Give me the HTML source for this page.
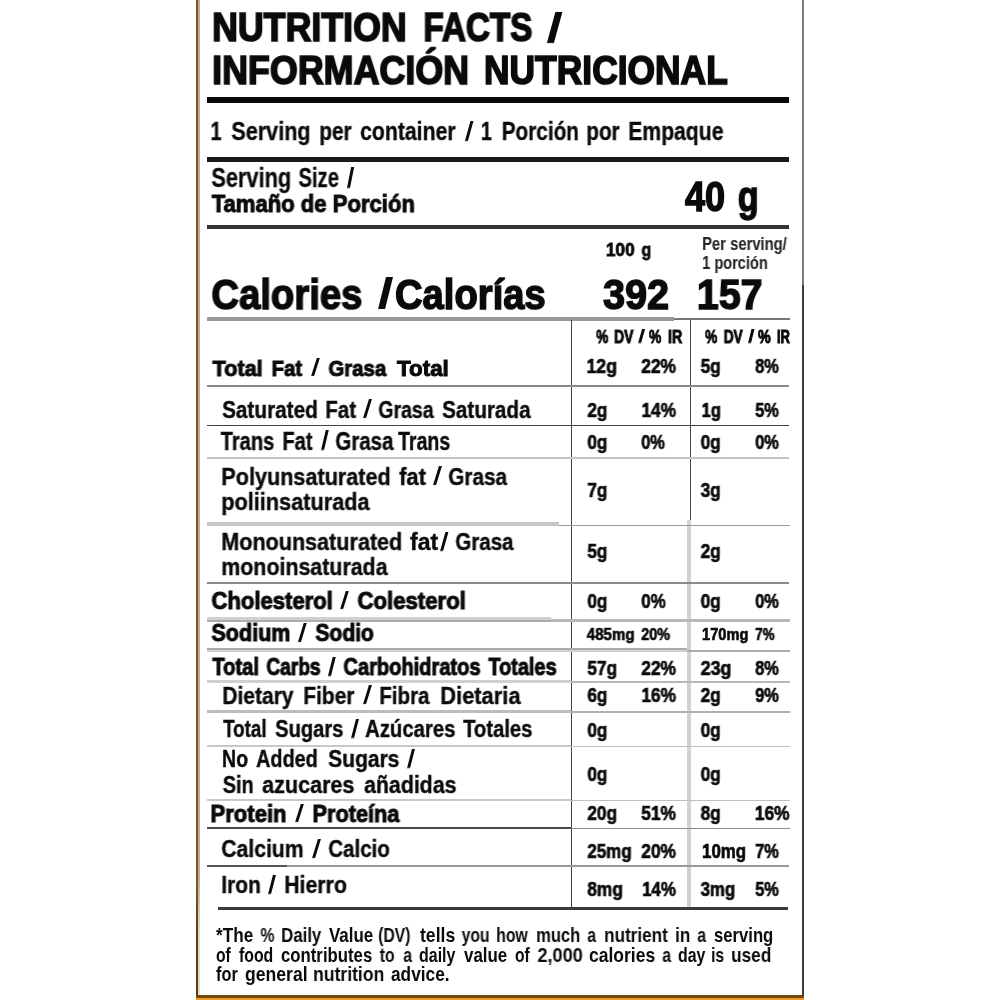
<!DOCTYPE html>
<html><head><meta charset="utf-8"><title>Nutrition Facts</title>
<style>
html,body{margin:0;padding:0;background:#fff;}
body{width:1000px;height:1000px;position:relative;overflow:hidden;font-family:"Liberation Sans",sans-serif;color:#0a0a0a;}
.t{position:absolute;left:0;top:0;white-space:pre;transform-origin:0 0;display:block;filter:blur(0.4px);}
.r{position:absolute;}
.sl{filter:blur(0.4px);}
</style></head><body>
<div class="r" style="left:196px;top:0px;width:2.2px;height:1000px;background:#8a5616;background:linear-gradient(#8a5616 0,#8a5616 88%,#5c3a08 94%,#5c3a08 100%);"></div>
<div class="r" style="left:198.2px;top:0px;width:1.8px;height:995.2px;background:#b0b2aa;background:linear-gradient(#b0b2aa 0,#b0b2aa 88%,#dcdcdc 94%,#dcdcdc 100%);"></div>
<div class="r" style="left:802px;top:0px;width:2px;height:285px;background:#7a7a78;"></div>
<div class="r" style="left:802px;top:285px;width:2px;height:715px;background:#3d3a38;"></div>
<div class="r" style="left:196px;top:995.2px;width:608px;height:2.8px;background:#6b4a1a;"></div>
<div class="r" style="left:196px;top:997.8px;width:608px;height:2.2px;background:#f59a10;"></div>
<div class="r" style="left:206.8px;top:97.4px;width:582.7px;height:6.1px;background:#0a0a0a;"></div>
<div class="r" style="left:206.8px;top:157.3px;width:582.7px;height:4.4px;background:#1a1a1a;"></div>
<div class="r" style="left:206.8px;top:225.2px;width:582.7px;height:4.2px;background:#333;"></div>
<div class="r" style="left:206.8px;top:317.2px;width:467.2px;height:3.4px;background:#999;"></div>
<div class="r" style="left:674px;top:318.2px;width:115.5px;height:2px;background:#777;"></div>
<div class="r" style="left:570.5px;top:320px;width:1.2px;height:587px;background:#444;"></div>
<div class="r" style="left:690px;top:320px;width:1.2px;height:200px;background:#444;"></div>
<div class="r" style="left:686.6px;top:520px;width:4px;height:387px;background:#d2d2d2;"></div>
<div class="r" style="left:206.8px;top:384.8px;width:582.7px;height:2.2px;background:#888;"></div>
<div class="r" style="left:206.8px;top:424.8px;width:582.7px;height:1.6px;background:#444;"></div>
<div class="r" style="left:206.8px;top:456.6px;width:582.7px;height:2.2px;background:#c4c4c4;"></div>
<div class="r" style="left:206.8px;top:522.4px;width:352.2px;height:3.7px;background:#c6c6c6;"></div>
<div class="r" style="left:559px;top:524.8px;width:230.5px;height:1.5px;background:#999;"></div>
<div class="r" style="left:206.8px;top:582.3px;width:582.7px;height:1.8px;background:#8a8a8a;"></div>
<div class="r" style="left:206.8px;top:617.2px;width:344.2px;height:2.6px;background:#d0d0d0;"></div>
<div class="r" style="left:206.8px;top:619.8px;width:344.2px;height:2.0px;background:#adadad;"></div>
<div class="r" style="left:551px;top:619.2px;width:238.5px;height:2.4px;background:#b8b8b8;"></div>
<div class="r" style="left:206.8px;top:648px;width:480.2px;height:2.0px;background:#ababab;"></div>
<div class="r" style="left:206.8px;top:650px;width:480.2px;height:1.8px;background:#d2d2d2;"></div>
<div class="r" style="left:687px;top:650.4px;width:102.5px;height:1.4px;background:#aaa;"></div>
<div class="r" style="left:206.8px;top:679.6px;width:364.2px;height:3px;background:#d0d0d0;"></div>
<div class="r" style="left:571px;top:681.2px;width:218.5px;height:1.6px;background:#b8b8b8;"></div>
<div class="r" style="left:206.8px;top:710.3px;width:364.2px;height:2.4px;background:#bdbdbd;"></div>
<div class="r" style="left:571px;top:711.4px;width:218.5px;height:1.7px;background:#b0b0b0;"></div>
<div class="r" style="left:206.8px;top:744.6px;width:364.2px;height:2.4px;background:#c8c8c8;"></div>
<div class="r" style="left:571px;top:745.6px;width:218.5px;height:1.5px;background:#c0c0c0;"></div>
<div class="r" style="left:206.8px;top:798.7px;width:364.2px;height:2.4px;background:#c8c8c8;"></div>
<div class="r" style="left:571px;top:799.5px;width:218.5px;height:1.5px;background:#c0c0c0;"></div>
<div class="r" style="left:206.8px;top:827.3px;width:364.2px;height:1.8px;background:#4a4a4a;"></div>
<div class="r" style="left:571px;top:827.5px;width:218.5px;height:1.8px;background:#8c8c8c;"></div>
<div class="r" style="left:206.8px;top:865.1px;width:80px;height:2px;background:#555;"></div>
<div class="r" style="left:286.8px;top:865.3px;width:502.7px;height:2px;background:#999;"></div>
<div class="r" style="left:218.2px;top:906.8px;width:570.3px;height:3.7px;background:#3a3a3a;"></div>
<div class="r sl" style="left:547.00px;top:12.40px;width:7.00px;height:30.60px;background:#0a0a0a;transform:skewX(-15.35deg);transform-origin:0 100%;"></div>
<div class="r sl" style="left:378.00px;top:277.20px;width:7.00px;height:32.40px;background:#0a0a0a;transform:skewX(-13.87deg);transform-origin:0 100%;"></div>
<div class="r sl" style="left:465.00px;top:121.12px;width:3.11px;height:19.58px;background:#0a0a0a;transform:skewX(-15.65deg);transform-origin:0 100%;"></div>
<div class="r sl" style="left:347.00px;top:167.00px;width:3.32px;height:20.90px;background:#0a0a0a;transform:skewX(-11.30deg);transform-origin:0 100%;"></div>
<div class="r sl" style="left:637.70px;top:329.20px;width:2.52px;height:14.30px;background:#0a0a0a;transform:skewX(-15.91deg);transform-origin:0 100%;"></div>
<div class="r sl" style="left:747.70px;top:329.20px;width:2.52px;height:14.30px;background:#0a0a0a;transform:skewX(-13.66deg);transform-origin:0 100%;"></div>
<div class="r sl" style="left:311.00px;top:358.04px;width:3.16px;height:18.26px;background:#0a0a0a;transform:skewX(-17.75deg);transform-origin:0 100%;"></div>
<div class="r sl" style="left:363.00px;top:399.35px;width:3.06px;height:19.25px;background:#0a0a0a;transform:skewX(-17.14deg);transform-origin:0 100%;"></div>
<div class="r sl" style="left:321.00px;top:430.26px;width:3.22px;height:20.24px;background:#0a0a0a;transform:skewX(-13.29deg);transform-origin:0 100%;"></div>
<div class="r sl" style="left:433.00px;top:466.25px;width:3.06px;height:19.25px;background:#0a0a0a;transform:skewX(-17.14deg);transform-origin:0 100%;"></div>
<div class="r sl" style="left:439.50px;top:531.65px;width:3.06px;height:19.25px;background:#0a0a0a;transform:skewX(-15.77deg);transform-origin:0 100%;"></div>
<div class="r sl" style="left:340.00px;top:591.42px;width:3.19px;height:18.48px;background:#0a0a0a;transform:skewX(-17.45deg);transform-origin:0 100%;"></div>
<div class="r sl" style="left:298.00px;top:622.78px;width:3.26px;height:18.92px;background:#0a0a0a;transform:skewX(-16.88deg);transform-origin:0 100%;"></div>
<div class="r sl" style="left:328.00px;top:656.58px;width:3.26px;height:18.92px;background:#0a0a0a;transform:skewX(-14.06deg);transform-origin:0 100%;"></div>
<div class="r sl" style="left:363.00px;top:685.05px;width:3.06px;height:19.25px;background:#0a0a0a;transform:skewX(-17.14deg);transform-origin:0 100%;"></div>
<div class="r sl" style="left:351.00px;top:718.65px;width:3.06px;height:19.25px;background:#0a0a0a;transform:skewX(-14.39deg);transform-origin:0 100%;"></div>
<div class="r sl" style="left:407.00px;top:748.65px;width:3.06px;height:19.25px;background:#0a0a0a;transform:skewX(-14.39deg);transform-origin:0 100%;"></div>
<div class="r sl" style="left:295.00px;top:804.22px;width:3.19px;height:18.48px;background:#0a0a0a;transform:skewX(-17.45deg);transform-origin:0 100%;"></div>
<div class="r sl" style="left:312.00px;top:838.65px;width:3.06px;height:19.25px;background:#0a0a0a;transform:skewX(-17.14deg);transform-origin:0 100%;"></div>
<div class="r sl" style="left:268.00px;top:874.65px;width:3.06px;height:19.25px;background:#0a0a0a;transform:skewX(-14.39deg);transform-origin:0 100%;"></div>
<span class="t" style="font-size:40.25px;line-height:40.25px;transform:translate(212.18px,8px) rotate(0.03deg) scaleX(0.8877);font-weight:bold;-webkit-text-stroke:1.7px #0a0a0a;">NUTRITION</span>
<span class="t" style="font-size:40.25px;line-height:40.25px;transform:translate(423.45px,8px) rotate(0.03deg) scaleX(0.8258);font-weight:bold;-webkit-text-stroke:1.7px #0a0a0a;">FACTS</span>
<span class="t" style="font-size:40.25px;line-height:40.25px;transform:translate(212.18px,51px) rotate(0.03deg) scaleX(0.8907);font-weight:bold;-webkit-text-stroke:1.7px #0a0a0a;">INFORMACIÓN</span>
<span class="t" style="font-size:40.25px;line-height:40.25px;transform:translate(483.99px,51px) rotate(0.03deg) scaleX(0.8793);font-weight:bold;-webkit-text-stroke:1.7px #0a0a0a;">NUTRICIONAL</span>
<span class="t" style="font-size:25.25px;line-height:25.25px;transform:translate(210.55px,119px) rotate(0.03deg) scaleX(0.7820);font-weight:bold;-webkit-text-stroke:0.35px #0a0a0a;">1</span>
<span class="t" style="font-size:25.25px;line-height:25.25px;transform:translate(231.35px,119px) rotate(0.03deg) scaleX(0.8564);font-weight:bold;-webkit-text-stroke:0.35px #0a0a0a;">Serving</span>
<span class="t" style="font-size:25.25px;line-height:25.25px;transform:translate(319.32px,119px) rotate(0.03deg) scaleX(0.8244);font-weight:bold;-webkit-text-stroke:0.35px #0a0a0a;">per</span>
<span class="t" style="font-size:25.25px;line-height:25.25px;transform:translate(360.15px,119px) rotate(0.03deg) scaleX(0.8408);font-weight:bold;-webkit-text-stroke:0.35px #0a0a0a;">container</span>
<span class="t" style="font-size:25.25px;line-height:25.25px;transform:translate(480.89px,119px) rotate(0.03deg) scaleX(0.7820);font-weight:bold;-webkit-text-stroke:0.35px #0a0a0a;">1</span>
<span class="t" style="font-size:25.25px;line-height:25.25px;transform:translate(501.72px,119px) rotate(0.03deg) scaleX(0.8224);font-weight:bold;-webkit-text-stroke:0.35px #0a0a0a;">Porción</span>
<span class="t" style="font-size:25.25px;line-height:25.25px;transform:translate(586.32px,119px) rotate(0.03deg) scaleX(0.8209);font-weight:bold;-webkit-text-stroke:0.35px #0a0a0a;">por</span>
<span class="t" style="font-size:25.25px;line-height:25.25px;transform:translate(628.31px,119px) rotate(0.03deg) scaleX(0.8375);font-weight:bold;-webkit-text-stroke:0.35px #0a0a0a;">Empaque</span>
<span class="t" style="font-size:27.25px;line-height:27.25px;transform:translate(211.42px,164px) rotate(0.03deg) scaleX(0.7981);font-weight:bold;-webkit-text-stroke:0.3px #0a0a0a;">Serving</span>
<span class="t" style="font-size:27.25px;line-height:27.25px;transform:translate(298.53px,164px) rotate(0.03deg) scaleX(0.7423);font-weight:bold;-webkit-text-stroke:0.3px #0a0a0a;">Size</span>
<span class="t" style="font-size:24.5px;line-height:24.5px;transform:translate(211.75px,192px) rotate(0.03deg) scaleX(0.9009);font-weight:bold;-webkit-text-stroke:1.0px #0a0a0a;">Tamaño de Porción</span>
<span class="t" style="font-size:42.25px;line-height:42.25px;transform:translate(685.04px,176px) rotate(0.03deg) scaleX(0.8511);font-weight:bold;-webkit-text-stroke:1.5px #0a0a0a;">40</span>
<span class="t" style="font-size:42.25px;line-height:42.25px;transform:translate(737.80px,176px) rotate(0.03deg) scaleX(0.8085);font-weight:bold;-webkit-text-stroke:1.5px #0a0a0a;">g</span>
<span class="t" style="font-size:19.25px;line-height:19.25px;transform:translate(605.86px,240px) rotate(0.03deg) scaleX(0.8971);font-weight:bold;-webkit-text-stroke:0.8px #0a0a0a;">100</span>
<span class="t" style="font-size:19.25px;line-height:19.25px;transform:translate(641.49px,240px) rotate(0.03deg) scaleX(0.8343);font-weight:bold;-webkit-text-stroke:0.8px #0a0a0a;">g</span>
<span class="t" style="font-size:17.5px;line-height:17.5px;transform:translate(702.20px,236px) rotate(0.03deg) scaleX(0.8448);font-weight:bold;-webkit-text-stroke:0.1px #262626;color:#262626;">Per serving/</span>
<span class="t" style="font-size:18.0px;line-height:18.0px;transform:translate(702.23px,254px) rotate(0.03deg) scaleX(0.8090);font-weight:bold;-webkit-text-stroke:0.1px #262626;color:#262626;">1 porción</span>
<span class="t" style="font-size:43.0px;line-height:43.0px;transform:translate(211.38px,273px) rotate(0.03deg) scaleX(0.8909);font-weight:bold;-webkit-text-stroke:1.5px #0a0a0a;">Calories</span>
<span class="t" style="font-size:43.0px;line-height:43.0px;transform:translate(394.98px,273px) rotate(0.03deg) scaleX(0.8885);font-weight:bold;-webkit-text-stroke:1.5px #0a0a0a;">Calorías</span>
<span class="t" style="font-size:43.0px;line-height:43.0px;transform:translate(603.09px,273px) rotate(0.03deg) scaleX(0.9208);font-weight:bold;-webkit-text-stroke:1.5px #0a0a0a;">392</span>
<span class="t" style="font-size:43.0px;line-height:43.0px;transform:translate(696.86px,273px) rotate(0.03deg) scaleX(0.9157);font-weight:bold;-webkit-text-stroke:1.5px #0a0a0a;">157</span>
<span class="t" style="font-size:17.5px;line-height:17.5px;transform:translate(596.29px,329px) rotate(0.03deg) scaleX(0.7706);font-weight:bold;-webkit-text-stroke:1.0px #0a0a0a;">%</span>
<span class="t" style="font-size:17.5px;line-height:17.5px;transform:translate(614.21px,329px) rotate(0.03deg) scaleX(0.7874);font-weight:bold;-webkit-text-stroke:1.0px #0a0a0a;">DV</span>
<span class="t" style="font-size:17.5px;line-height:17.5px;transform:translate(649.09px,329px) rotate(0.03deg) scaleX(0.7824);font-weight:bold;-webkit-text-stroke:1.0px #0a0a0a;">%</span>
<span class="t" style="font-size:17.5px;line-height:17.5px;transform:translate(668.10px,329px) rotate(0.03deg) scaleX(0.8006);font-weight:bold;-webkit-text-stroke:1.0px #0a0a0a;">IR</span>
<span class="t" style="font-size:17.5px;line-height:17.5px;transform:translate(705.19px,329px) rotate(0.03deg) scaleX(0.7765);font-weight:bold;-webkit-text-stroke:1.0px #0a0a0a;">%</span>
<span class="t" style="font-size:17.5px;line-height:17.5px;transform:translate(723.81px,329px) rotate(0.03deg) scaleX(0.7752);font-weight:bold;-webkit-text-stroke:1.0px #0a0a0a;">DV</span>
<span class="t" style="font-size:17.5px;line-height:17.5px;transform:translate(758.01px,329px) rotate(0.03deg) scaleX(0.8176);font-weight:bold;-webkit-text-stroke:1.0px #0a0a0a;">%</span>
<span class="t" style="font-size:17.5px;line-height:17.5px;transform:translate(777.03px,329px) rotate(0.03deg) scaleX(0.7390);font-weight:bold;-webkit-text-stroke:1.0px #0a0a0a;">IR</span>
<span class="t" style="font-size:22.75px;line-height:22.75px;transform:translate(212.48px,357px) rotate(0.03deg) scaleX(0.9554);font-weight:bold;-webkit-text-stroke:1.0px #0a0a0a;">Total</span>
<span class="t" style="font-size:22.75px;line-height:22.75px;transform:translate(271.55px,357px) rotate(0.03deg) scaleX(0.8973);font-weight:bold;-webkit-text-stroke:1.0px #0a0a0a;">Fat</span>
<span class="t" style="font-size:22.75px;line-height:22.75px;transform:translate(328.45px,357px) rotate(0.03deg) scaleX(0.8959);font-weight:bold;-webkit-text-stroke:1.0px #0a0a0a;">Grasa</span>
<span class="t" style="font-size:22.75px;line-height:22.75px;transform:translate(396.99px,357px) rotate(0.03deg) scaleX(0.9841);font-weight:bold;-webkit-text-stroke:1.0px #0a0a0a;">Total</span>
<span class="t" style="font-size:24.75px;line-height:24.75px;transform:translate(222.17px,398px) rotate(0.03deg) scaleX(0.8375);font-weight:bold;-webkit-text-stroke:0.4px #0a0a0a;">Saturated</span>
<span class="t" style="font-size:24.75px;line-height:24.75px;transform:translate(325.34px,398px) rotate(0.03deg) scaleX(0.8268);font-weight:bold;-webkit-text-stroke:0.4px #0a0a0a;">Fat</span>
<span class="t" style="font-size:24.75px;line-height:24.75px;transform:translate(378.37px,398px) rotate(0.03deg) scaleX(0.7878);font-weight:bold;-webkit-text-stroke:0.4px #0a0a0a;">Grasa</span>
<span class="t" style="font-size:24.75px;line-height:24.75px;transform:translate(442.17px,398px) rotate(0.03deg) scaleX(0.8353);font-weight:bold;-webkit-text-stroke:0.4px #0a0a0a;">Saturada</span>
<span class="t" style="font-size:26.25px;line-height:26.25px;transform:translate(220.65px,428px) rotate(0.03deg) scaleX(0.7661);font-weight:bold;-webkit-text-stroke:0.4px #0a0a0a;">Trans</span>
<span class="t" style="font-size:26.25px;line-height:26.25px;transform:translate(282.39px,428px) rotate(0.03deg) scaleX(0.7686);font-weight:bold;-webkit-text-stroke:0.4px #0a0a0a;">Fat</span>
<span class="t" style="font-size:26.25px;line-height:26.25px;transform:translate(335.37px,428px) rotate(0.03deg) scaleX(0.7813);font-weight:bold;-webkit-text-stroke:0.4px #0a0a0a;">Grasa</span>
<span class="t" style="font-size:26.25px;line-height:26.25px;transform:translate(398.15px,428px) rotate(0.03deg) scaleX(0.7446);font-weight:bold;-webkit-text-stroke:0.4px #0a0a0a;">Trans</span>
<span class="t" style="font-size:24.75px;line-height:24.75px;transform:translate(221.30px,465px) rotate(0.03deg) scaleX(0.8741);font-weight:bold;-webkit-text-stroke:0.4px #0a0a0a;">Polyunsaturated</span>
<span class="t" style="font-size:24.75px;line-height:24.75px;transform:translate(399.18px,465px) rotate(0.03deg) scaleX(0.8880);font-weight:bold;-webkit-text-stroke:0.4px #0a0a0a;">fat</span>
<span class="t" style="font-size:24.75px;line-height:24.75px;transform:translate(448.33px,465px) rotate(0.03deg) scaleX(0.8365);font-weight:bold;-webkit-text-stroke:0.4px #0a0a0a;">Grasa</span>
<span class="t" style="font-size:24.75px;line-height:24.75px;transform:translate(221.30px,490px) rotate(0.03deg) scaleX(0.8768);font-weight:bold;-webkit-text-stroke:0.4px #0a0a0a;">poliinsaturada</span>
<span class="t" style="font-size:24.75px;line-height:24.75px;transform:translate(221.30px,530px) rotate(0.03deg) scaleX(0.8718);font-weight:bold;-webkit-text-stroke:0.4px #0a0a0a;">Monounsaturated</span>
<span class="t" style="font-size:24.75px;line-height:24.75px;transform:translate(410.00px,530px) rotate(0.03deg) scaleX(0.9328);font-weight:bold;-webkit-text-stroke:0.4px #0a0a0a;">fat</span>
<span class="t" style="font-size:24.75px;line-height:24.75px;transform:translate(455.34px,530px) rotate(0.03deg) scaleX(0.8308);font-weight:bold;-webkit-text-stroke:0.4px #0a0a0a;">Grasa</span>
<span class="t" style="font-size:24.75px;line-height:24.75px;transform:translate(221.31px,555px) rotate(0.03deg) scaleX(0.8639);font-weight:bold;-webkit-text-stroke:0.4px #0a0a0a;">monoinsaturada</span>
<span class="t" style="font-size:23.0px;line-height:23.0px;transform:translate(211.48px,590px) rotate(0.03deg) scaleX(0.9593);font-weight:bold;-webkit-text-stroke:1.0px #0a0a0a;">Cholesterol</span>
<span class="t" style="font-size:23.0px;line-height:23.0px;transform:translate(357.48px,590px) rotate(0.03deg) scaleX(0.9636);font-weight:bold;-webkit-text-stroke:1.0px #0a0a0a;">Colesterol</span>
<span class="t" style="font-size:23.5px;line-height:23.5px;transform:translate(211.46px,622px) rotate(0.03deg) scaleX(0.9158);font-weight:bold;-webkit-text-stroke:1.0px #0a0a0a;">Sodium</span>
<span class="t" style="font-size:23.5px;line-height:23.5px;transform:translate(315.45px,622px) rotate(0.03deg) scaleX(0.8951);font-weight:bold;-webkit-text-stroke:1.0px #0a0a0a;">Sodio</span>
<span class="t" style="font-size:23.5px;line-height:23.5px;transform:translate(212.43px,656px) rotate(0.03deg) scaleX(0.8541);font-weight:bold;-webkit-text-stroke:1.0px #0a0a0a;">Total</span>
<span class="t" style="font-size:23.5px;line-height:23.5px;transform:translate(266.41px,656px) rotate(0.03deg) scaleX(0.8143);font-weight:bold;-webkit-text-stroke:1.0px #0a0a0a;">Carbs</span>
<span class="t" style="font-size:23.5px;line-height:23.5px;transform:translate(343.43px,656px) rotate(0.03deg) scaleX(0.8543);font-weight:bold;-webkit-text-stroke:1.0px #0a0a0a;">Carbohidratos</span>
<span class="t" style="font-size:23.5px;line-height:23.5px;transform:translate(488.42px,656px) rotate(0.03deg) scaleX(0.8470);font-weight:bold;-webkit-text-stroke:1.0px #0a0a0a;">Totales</span>
<span class="t" style="font-size:24.75px;line-height:24.75px;transform:translate(222.32px,684px) rotate(0.03deg) scaleX(0.8498);font-weight:bold;-webkit-text-stroke:0.4px #0a0a0a;">Dietary</span>
<span class="t" style="font-size:24.75px;line-height:24.75px;transform:translate(303.32px,684px) rotate(0.03deg) scaleX(0.8461);font-weight:bold;-webkit-text-stroke:0.4px #0a0a0a;">Fiber</span>
<span class="t" style="font-size:24.75px;line-height:24.75px;transform:translate(379.33px,684px) rotate(0.03deg) scaleX(0.8313);font-weight:bold;-webkit-text-stroke:0.4px #0a0a0a;">Fibra</span>
<span class="t" style="font-size:24.75px;line-height:24.75px;transform:translate(440.29px,684px) rotate(0.03deg) scaleX(0.8847);font-weight:bold;-webkit-text-stroke:0.4px #0a0a0a;">Dietaria</span>
<span class="t" style="font-size:24.75px;line-height:24.75px;transform:translate(223.15px,717px) rotate(0.03deg) scaleX(0.7599);font-weight:bold;-webkit-text-stroke:0.4px #0a0a0a;">Total</span>
<span class="t" style="font-size:24.75px;line-height:24.75px;transform:translate(275.16px,717px) rotate(0.03deg) scaleX(0.8140);font-weight:bold;-webkit-text-stroke:0.4px #0a0a0a;">Sugars</span>
<span class="t" style="font-size:24.75px;line-height:24.75px;transform:translate(365.16px,717px) rotate(0.03deg) scaleX(0.8205);font-weight:bold;-webkit-text-stroke:0.4px #0a0a0a;">Azúcares</span>
<span class="t" style="font-size:24.75px;line-height:24.75px;transform:translate(463.16px,717px) rotate(0.03deg) scaleX(0.8171);font-weight:bold;-webkit-text-stroke:0.4px #0a0a0a;">Totales</span>
<span class="t" style="font-size:24.75px;line-height:24.75px;transform:translate(221.97px,747px) rotate(0.03deg) scaleX(0.7904);font-weight:bold;-webkit-text-stroke:0.4px #0a0a0a;">No</span>
<span class="t" style="font-size:24.75px;line-height:24.75px;transform:translate(256.16px,747px) rotate(0.03deg) scaleX(0.7997);font-weight:bold;-webkit-text-stroke:0.4px #0a0a0a;">Added</span>
<span class="t" style="font-size:24.75px;line-height:24.75px;transform:translate(328.17px,747px) rotate(0.03deg) scaleX(0.8499);font-weight:bold;-webkit-text-stroke:0.4px #0a0a0a;">Sugars</span>
<span class="t" style="font-size:24.75px;line-height:24.75px;transform:translate(222.76px,773px) rotate(0.03deg) scaleX(0.8053);font-weight:bold;-webkit-text-stroke:0.4px #0a0a0a;">Sin</span>
<span class="t" style="font-size:24.75px;line-height:24.75px;transform:translate(262.17px,773px) rotate(0.03deg) scaleX(0.8713);font-weight:bold;-webkit-text-stroke:0.4px #0a0a0a;">azucares</span>
<span class="t" style="font-size:24.75px;line-height:24.75px;transform:translate(364.17px,773px) rotate(0.03deg) scaleX(0.8604);font-weight:bold;-webkit-text-stroke:0.4px #0a0a0a;">añadidas</span>
<span class="t" style="font-size:23.0px;line-height:23.0px;transform:translate(210.52px,803px) rotate(0.03deg) scaleX(0.9593);font-weight:bold;-webkit-text-stroke:1.0px #0a0a0a;">Protein</span>
<span class="t" style="font-size:23.0px;line-height:23.0px;transform:translate(312.53px,803px) rotate(0.03deg) scaleX(0.9433);font-weight:bold;-webkit-text-stroke:1.0px #0a0a0a;">Proteína</span>
<span class="t" style="font-size:24.75px;line-height:24.75px;transform:translate(221.32px,837px) rotate(0.03deg) scaleX(0.8556);font-weight:bold;-webkit-text-stroke:0.4px #0a0a0a;">Calcium</span>
<span class="t" style="font-size:24.75px;line-height:24.75px;transform:translate(328.34px,837px) rotate(0.03deg) scaleX(0.8293);font-weight:bold;-webkit-text-stroke:0.4px #0a0a0a;">Calcio</span>
<span class="t" style="font-size:24.75px;line-height:24.75px;transform:translate(221.32px,873px) rotate(0.03deg) scaleX(0.8440);font-weight:bold;-webkit-text-stroke:0.4px #0a0a0a;">Iron</span>
<span class="t" style="font-size:24.75px;line-height:24.75px;transform:translate(284.31px,873px) rotate(0.03deg) scaleX(0.8590);font-weight:bold;-webkit-text-stroke:0.4px #0a0a0a;">Hierro</span>
<span class="t" style="font-size:19.75px;line-height:19.75px;transform:translate(586.49px,357px) rotate(0.03deg) scaleX(0.8983);font-weight:bold;-webkit-text-stroke:0.65px #0a0a0a;">12g</span>
<span class="t" style="font-size:19.75px;line-height:19.75px;transform:translate(641.29px,357px) rotate(0.03deg) scaleX(0.8789);font-weight:bold;-webkit-text-stroke:0.65px #0a0a0a;">22%</span>
<span class="t" style="font-size:19.75px;line-height:19.75px;transform:translate(700.68px,357px) rotate(0.03deg) scaleX(0.8748);font-weight:bold;-webkit-text-stroke:0.65px #0a0a0a;">5g</span>
<span class="t" style="font-size:19.75px;line-height:19.75px;transform:translate(755.27px,357px) rotate(0.03deg) scaleX(0.8301);font-weight:bold;-webkit-text-stroke:0.65px #0a0a0a;">8%</span>
<span class="t" style="font-size:19.75px;line-height:19.75px;transform:translate(587.38px,401px) rotate(0.03deg) scaleX(0.8748);font-weight:bold;-webkit-text-stroke:0.65px #0a0a0a;">2g</span>
<span class="t" style="font-size:19.75px;line-height:19.75px;transform:translate(641.51px,401px) rotate(0.03deg) scaleX(0.8733);font-weight:bold;-webkit-text-stroke:0.65px #0a0a0a;">14%</span>
<span class="t" style="font-size:19.75px;line-height:19.75px;transform:translate(701.64px,401px) rotate(0.03deg) scaleX(0.8320);font-weight:bold;-webkit-text-stroke:0.65px #0a0a0a;">1g</span>
<span class="t" style="font-size:19.75px;line-height:19.75px;transform:translate(755.27px,401px) rotate(0.03deg) scaleX(0.8301);font-weight:bold;-webkit-text-stroke:0.65px #0a0a0a;">5%</span>
<span class="t" style="font-size:19.75px;line-height:19.75px;transform:translate(587.38px,433px) rotate(0.03deg) scaleX(0.8748);font-weight:bold;-webkit-text-stroke:0.65px #0a0a0a;">0g</span>
<span class="t" style="font-size:19.75px;line-height:19.75px;transform:translate(641.27px,433px) rotate(0.03deg) scaleX(0.8301);font-weight:bold;-webkit-text-stroke:0.65px #0a0a0a;">0%</span>
<span class="t" style="font-size:19.75px;line-height:19.75px;transform:translate(700.68px,433px) rotate(0.03deg) scaleX(0.8748);font-weight:bold;-webkit-text-stroke:0.65px #0a0a0a;">0g</span>
<span class="t" style="font-size:19.75px;line-height:19.75px;transform:translate(755.27px,433px) rotate(0.03deg) scaleX(0.8301);font-weight:bold;-webkit-text-stroke:0.65px #0a0a0a;">0%</span>
<span class="t" style="font-size:19.75px;line-height:19.75px;transform:translate(587.38px,481px) rotate(0.03deg) scaleX(0.8748);font-weight:bold;-webkit-text-stroke:0.65px #0a0a0a;">7g</span>
<span class="t" style="font-size:19.75px;line-height:19.75px;transform:translate(700.68px,481px) rotate(0.03deg) scaleX(0.8748);font-weight:bold;-webkit-text-stroke:0.65px #0a0a0a;">3g</span>
<span class="t" style="font-size:19.75px;line-height:19.75px;transform:translate(587.38px,542px) rotate(0.03deg) scaleX(0.8748);font-weight:bold;-webkit-text-stroke:0.65px #0a0a0a;">5g</span>
<span class="t" style="font-size:19.75px;line-height:19.75px;transform:translate(700.68px,542px) rotate(0.03deg) scaleX(0.8748);font-weight:bold;-webkit-text-stroke:0.65px #0a0a0a;">2g</span>
<span class="t" style="font-size:19.75px;line-height:19.75px;transform:translate(587.38px,592px) rotate(0.03deg) scaleX(0.8748);font-weight:bold;-webkit-text-stroke:0.65px #0a0a0a;">0g</span>
<span class="t" style="font-size:19.75px;line-height:19.75px;transform:translate(641.28px,592px) rotate(0.03deg) scaleX(0.8537);font-weight:bold;-webkit-text-stroke:0.65px #0a0a0a;">0%</span>
<span class="t" style="font-size:19.75px;line-height:19.75px;transform:translate(700.68px,592px) rotate(0.03deg) scaleX(0.8748);font-weight:bold;-webkit-text-stroke:0.65px #0a0a0a;">0g</span>
<span class="t" style="font-size:19.75px;line-height:19.75px;transform:translate(755.27px,592px) rotate(0.03deg) scaleX(0.8301);font-weight:bold;-webkit-text-stroke:0.65px #0a0a0a;">0%</span>
<span class="t" style="font-size:16.5px;line-height:16.5px;transform:translate(586.70px,626px) rotate(0.03deg) scaleX(0.9180);font-weight:bold;-webkit-text-stroke:0.65px #0a0a0a;">485mg</span>
<span class="t" style="font-size:16.5px;line-height:16.5px;transform:translate(641.28px,626px) rotate(0.03deg) scaleX(0.8735);font-weight:bold;-webkit-text-stroke:0.65px #0a0a0a;">20%</span>
<span class="t" style="font-size:16.5px;line-height:16.5px;transform:translate(702.00px,626px) rotate(0.03deg) scaleX(0.8869);font-weight:bold;-webkit-text-stroke:0.65px #0a0a0a;">170mg</span>
<span class="t" style="font-size:16.5px;line-height:16.5px;transform:translate(755.26px,626px) rotate(0.03deg) scaleX(0.8136);font-weight:bold;-webkit-text-stroke:0.65px #0a0a0a;">7%</span>
<span class="t" style="font-size:19.75px;line-height:19.75px;transform:translate(587.38px,659px) rotate(0.03deg) scaleX(0.8716);font-weight:bold;-webkit-text-stroke:0.65px #0a0a0a;">57g</span>
<span class="t" style="font-size:19.75px;line-height:19.75px;transform:translate(641.29px,659px) rotate(0.03deg) scaleX(0.8789);font-weight:bold;-webkit-text-stroke:0.65px #0a0a0a;">22%</span>
<span class="t" style="font-size:19.75px;line-height:19.75px;transform:translate(700.69px,659px) rotate(0.03deg) scaleX(0.9043);font-weight:bold;-webkit-text-stroke:0.65px #0a0a0a;">23g</span>
<span class="t" style="font-size:19.75px;line-height:19.75px;transform:translate(755.27px,659px) rotate(0.03deg) scaleX(0.8301);font-weight:bold;-webkit-text-stroke:0.65px #0a0a0a;">8%</span>
<span class="t" style="font-size:19.75px;line-height:19.75px;transform:translate(587.38px,686px) rotate(0.03deg) scaleX(0.8748);font-weight:bold;-webkit-text-stroke:0.65px #0a0a0a;">6g</span>
<span class="t" style="font-size:19.75px;line-height:19.75px;transform:translate(641.41px,686px) rotate(0.03deg) scaleX(0.8759);font-weight:bold;-webkit-text-stroke:0.65px #0a0a0a;">16%</span>
<span class="t" style="font-size:19.75px;line-height:19.75px;transform:translate(700.68px,686px) rotate(0.03deg) scaleX(0.8748);font-weight:bold;-webkit-text-stroke:0.65px #0a0a0a;">2g</span>
<span class="t" style="font-size:19.75px;line-height:19.75px;transform:translate(755.27px,686px) rotate(0.03deg) scaleX(0.8301);font-weight:bold;-webkit-text-stroke:0.65px #0a0a0a;">9%</span>
<span class="t" style="font-size:19.75px;line-height:19.75px;transform:translate(587.38px,721px) rotate(0.03deg) scaleX(0.8748);font-weight:bold;-webkit-text-stroke:0.65px #0a0a0a;">0g</span>
<span class="t" style="font-size:19.75px;line-height:19.75px;transform:translate(700.68px,721px) rotate(0.03deg) scaleX(0.8748);font-weight:bold;-webkit-text-stroke:0.65px #0a0a0a;">0g</span>
<span class="t" style="font-size:19.75px;line-height:19.75px;transform:translate(587.38px,765px) rotate(0.03deg) scaleX(0.8748);font-weight:bold;-webkit-text-stroke:0.65px #0a0a0a;">0g</span>
<span class="t" style="font-size:19.75px;line-height:19.75px;transform:translate(700.68px,765px) rotate(0.03deg) scaleX(0.8748);font-weight:bold;-webkit-text-stroke:0.65px #0a0a0a;">0g</span>
<span class="t" style="font-size:19.75px;line-height:19.75px;transform:translate(587.38px,804px) rotate(0.03deg) scaleX(0.8716);font-weight:bold;-webkit-text-stroke:0.65px #0a0a0a;">20g</span>
<span class="t" style="font-size:19.75px;line-height:19.75px;transform:translate(641.28px,804px) rotate(0.03deg) scaleX(0.8765);font-weight:bold;-webkit-text-stroke:0.65px #0a0a0a;">51%</span>
<span class="t" style="font-size:19.75px;line-height:19.75px;transform:translate(700.68px,804px) rotate(0.03deg) scaleX(0.8748);font-weight:bold;-webkit-text-stroke:0.65px #0a0a0a;">8g</span>
<span class="t" style="font-size:19.75px;line-height:19.75px;transform:translate(754.81px,804px) rotate(0.03deg) scaleX(0.8784);font-weight:bold;-webkit-text-stroke:0.65px #0a0a0a;">16%</span>
<span class="t" style="font-size:19.75px;line-height:19.75px;transform:translate(587.38px,842px) rotate(0.03deg) scaleX(0.8578);font-weight:bold;-webkit-text-stroke:0.65px #0a0a0a;">25mg</span>
<span class="t" style="font-size:19.75px;line-height:19.75px;transform:translate(641.28px,842px) rotate(0.03deg) scaleX(0.8765);font-weight:bold;-webkit-text-stroke:0.65px #0a0a0a;">20%</span>
<span class="t" style="font-size:19.75px;line-height:19.75px;transform:translate(702.02px,842px) rotate(0.03deg) scaleX(0.8549);font-weight:bold;-webkit-text-stroke:0.65px #0a0a0a;">10mg</span>
<span class="t" style="font-size:19.75px;line-height:19.75px;transform:translate(755.27px,842px) rotate(0.03deg) scaleX(0.8301);font-weight:bold;-webkit-text-stroke:0.65px #0a0a0a;">7%</span>
<span class="t" style="font-size:19.75px;line-height:19.75px;transform:translate(587.38px,880px) rotate(0.03deg) scaleX(0.8757);font-weight:bold;-webkit-text-stroke:0.65px #0a0a0a;">8mg</span>
<span class="t" style="font-size:19.75px;line-height:19.75px;transform:translate(642.22px,880px) rotate(0.03deg) scaleX(0.8531);font-weight:bold;-webkit-text-stroke:0.65px #0a0a0a;">14%</span>
<span class="t" style="font-size:19.75px;line-height:19.75px;transform:translate(700.68px,880px) rotate(0.03deg) scaleX(0.8484);font-weight:bold;-webkit-text-stroke:0.65px #0a0a0a;">3mg</span>
<span class="t" style="font-size:19.75px;line-height:19.75px;transform:translate(755.27px,880px) rotate(0.03deg) scaleX(0.8301);font-weight:bold;-webkit-text-stroke:0.65px #0a0a0a;">5%</span>
<span class="t" style="font-size:20.25px;line-height:20.25px;transform:translate(216.00px,925px) rotate(0.03deg) scaleX(0.8482);font-weight:bold;">*The</span>
<span class="t" style="font-size:20.25px;line-height:20.25px;transform:translate(260.50px,925px) rotate(0.03deg) scaleX(0.7773);font-weight:bold;">%</span>
<span class="t" style="font-size:20.25px;line-height:20.25px;transform:translate(281.17px,925px) rotate(0.03deg) scaleX(0.8309);font-weight:bold;">Daily</span>
<span class="t" style="font-size:20.25px;line-height:20.25px;transform:translate(329.00px,925px) rotate(0.03deg) scaleX(0.8358);font-weight:bold;">Value</span>
<span class="t" style="font-size:20.25px;line-height:20.25px;transform:translate(378.23px,925px) rotate(0.03deg) scaleX(0.7773);font-weight:bold;">(DV)</span>
<span class="t" style="font-size:20.25px;line-height:20.25px;transform:translate(420.00px,925px) rotate(0.03deg) scaleX(0.8694);font-weight:bold;">tells</span>
<span class="t" style="font-size:20.25px;line-height:20.25px;transform:translate(461.65px,925px) rotate(0.03deg) scaleX(0.7773);font-weight:bold;">you</span>
<span class="t" style="font-size:20.25px;line-height:20.25px;transform:translate(496.22px,925px) rotate(0.03deg) scaleX(0.7801);font-weight:bold;">how</span>
<span class="t" style="font-size:20.25px;line-height:20.25px;transform:translate(536.18px,925px) rotate(0.03deg) scaleX(0.8169);font-weight:bold;">much</span>
<span class="t" style="font-size:20.25px;line-height:20.25px;transform:translate(587.34px,925px) rotate(0.03deg) scaleX(0.7773);font-weight:bold;">a</span>
<span class="t" style="font-size:20.25px;line-height:20.25px;transform:translate(604.16px,925px) rotate(0.03deg) scaleX(0.8443);font-weight:bold;">nutrient</span>
<span class="t" style="font-size:20.25px;line-height:20.25px;transform:translate(675.16px,925px) rotate(0.03deg) scaleX(0.8420);font-weight:bold;">in</span>
<span class="t" style="font-size:20.25px;line-height:20.25px;transform:translate(697.34px,925px) rotate(0.03deg) scaleX(0.7773);font-weight:bold;">a</span>
<span class="t" style="font-size:20.25px;line-height:20.25px;transform:translate(714.00px,925px) rotate(0.03deg) scaleX(0.8233);font-weight:bold;">serving</span>
<span class="t" style="font-size:20.25px;line-height:20.25px;transform:translate(216.00px,945px) rotate(0.03deg) scaleX(0.7762);font-weight:bold;">of</span>
<span class="t" style="font-size:20.25px;line-height:20.25px;transform:translate(239.00px,945px) rotate(0.03deg) scaleX(0.7819);font-weight:bold;">food</span>
<span class="t" style="font-size:20.25px;line-height:20.25px;transform:translate(281.00px,945px) rotate(0.03deg) scaleX(0.8273);font-weight:bold;">contributes</span>
<span class="t" style="font-size:20.25px;line-height:20.25px;transform:translate(379.73px,945px) rotate(0.03deg) scaleX(0.7762);font-weight:bold;">to</span>
<span class="t" style="font-size:20.25px;line-height:20.25px;transform:translate(403.34px,945px) rotate(0.03deg) scaleX(0.7762);font-weight:bold;">a</span>
<span class="t" style="font-size:20.25px;line-height:20.25px;transform:translate(419.00px,945px) rotate(0.03deg) scaleX(0.7892);font-weight:bold;">daily</span>
<span class="t" style="font-size:20.25px;line-height:20.25px;transform:translate(464.00px,945px) rotate(0.03deg) scaleX(0.8346);font-weight:bold;">value</span>
<span class="t" style="font-size:20.25px;line-height:20.25px;transform:translate(514.98px,945px) rotate(0.03deg) scaleX(0.7762);font-weight:bold;">of</span>
<span class="t" style="font-size:20.25px;line-height:20.25px;transform:translate(537.49px,945px) rotate(0.03deg) scaleX(0.8931);font-weight:bold;">2,000</span>
<span class="t" style="font-size:20.25px;line-height:20.25px;transform:translate(589.00px,945px) rotate(0.03deg) scaleX(0.8651);font-weight:bold;">calories</span>
<span class="t" style="font-size:20.25px;line-height:20.25px;transform:translate(662.34px,945px) rotate(0.03deg) scaleX(0.7762);font-weight:bold;">a</span>
<span class="t" style="font-size:20.25px;line-height:20.25px;transform:translate(678.00px,945px) rotate(0.03deg) scaleX(0.7858);font-weight:bold;">day</span>
<span class="t" style="font-size:20.25px;line-height:20.25px;transform:translate(711.16px,945px) rotate(0.03deg) scaleX(0.7762);font-weight:bold;">is</span>
<span class="t" style="font-size:20.25px;line-height:20.25px;transform:translate(731.15px,945px) rotate(0.03deg) scaleX(0.8498);font-weight:bold;">used</span>
<span class="t" style="font-size:20.25px;line-height:20.25px;transform:translate(216.00px,964px) rotate(0.03deg) scaleX(0.8064);font-weight:bold;">for</span>
<span class="t" style="font-size:20.25px;line-height:20.25px;transform:translate(245.00px,964px) rotate(0.03deg) scaleX(0.8683);font-weight:bold;">general</span>
<span class="t" style="font-size:20.25px;line-height:20.25px;transform:translate(313.13px,964px) rotate(0.03deg) scaleX(0.8671);font-weight:bold;">nutrition</span>
<span class="t" style="font-size:20.25px;line-height:20.25px;transform:translate(391.00px,964px) rotate(0.03deg) scaleX(0.8524);font-weight:bold;">advice.</span>
</body></html>
